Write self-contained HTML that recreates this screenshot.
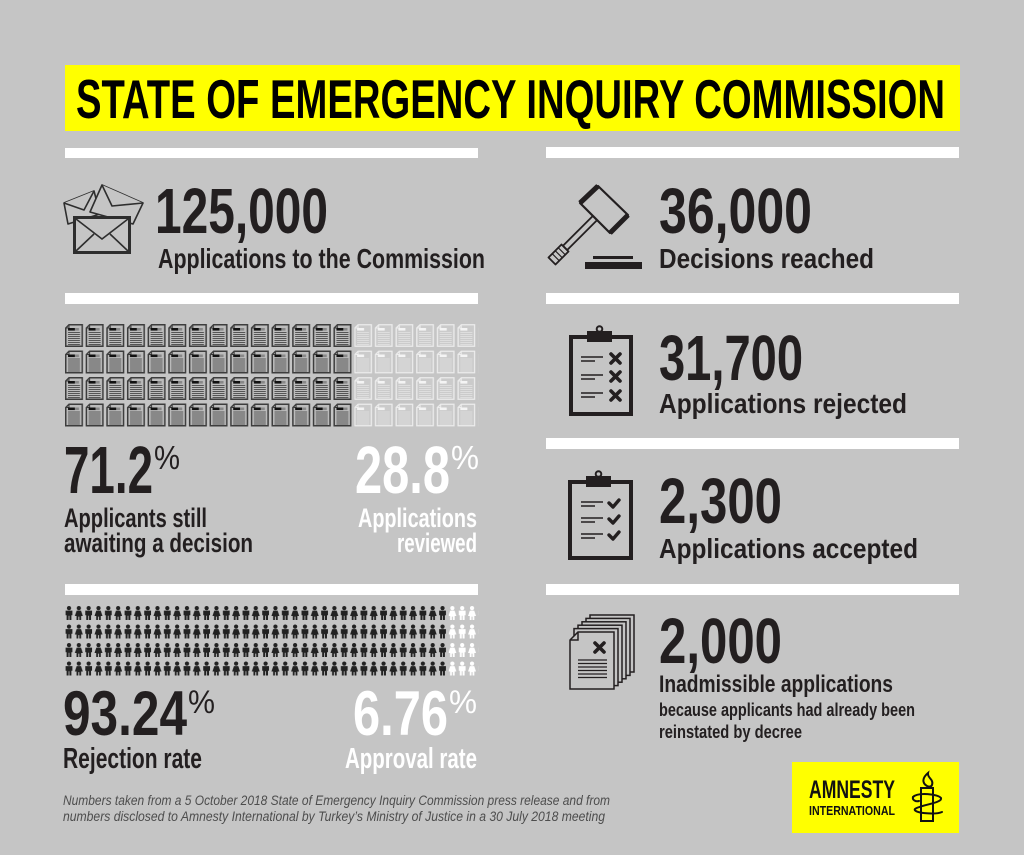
<!DOCTYPE html>
<html>
<head>
<meta charset="utf-8">
<style>
html,body{margin:0;padding:0;background:#c5c5c5;}
body{width:1024px;height:855px;overflow:hidden;}
svg{display:block;}
.b{font-family:"Liberation Sans Narrow","Liberation Sans",sans-serif;font-weight:bold;}
.r{font-family:"Liberation Sans Narrow","Liberation Sans",sans-serif;font-weight:normal;}
.i{font-family:"Liberation Sans",sans-serif;font-style:italic;font-weight:normal;}
</style>
</head>
<body>
<svg width="1024" height="855" viewBox="0 0 1024 855" xmlns="http://www.w3.org/2000/svg">
<defs>
  <pattern id="docD" patternUnits="userSpaceOnUse" x="65" y="324" width="20.65" height="26.5">
    <path d="M4,0.75 H17.25 V22.25 H0.75 V4 Z" fill="#bcbcbc" stroke="#3d3d3d" stroke-width="1.5"/>
    <path d="M0.75,4 H4 V0.75" fill="none" stroke="#3d3d3d" stroke-width="1"/>
    <rect x="3" y="4" width="7" height="2.6" fill="#111"/>
    <rect x="10" y="4" width="4" height="2.6" fill="#888"/>
    <path d="M3,8.5H15M3,10.5H15M3,12.5H15M3,14.5H15M3,16.5H15M3,18.5H15M3,20.5H15" stroke="#555" stroke-width="1"/>
  </pattern>
  <pattern id="docL" patternUnits="userSpaceOnUse" x="65" y="324" width="20.65" height="26.5">
    <path d="M4,0.75 H17.25 V22.25 H0.75 V4 Z" fill="#cbcbcb" stroke="#ececec" stroke-width="1.3"/>
    <path d="M0.75,4 H4 V0.75" fill="none" stroke="#ececec" stroke-width="1"/>
    <rect x="3" y="4" width="7" height="2.6" fill="#f4f4f4"/>
    <path d="M3,8.5H15M3,10.5H15M3,12.5H15M3,14.5H15M3,16.5H15M3,18.5H15M3,20.5H15" stroke="#dedede" stroke-width="1"/>
  </pattern>
  <pattern id="pplD" patternUnits="userSpaceOnUse" x="65" y="606" width="19.66" height="18.5">
    <g fill="#222">
      <circle cx="4" cy="2.1" r="2.1"/>
      <path d="M0.6,4.6 H7.4 V9.2 H6.4 V14 H4.4 V9.8 H3.6 V14 H1.6 V9.2 H0.6 Z"/>
      <circle cx="13.83" cy="2.1" r="2.1"/>
      <path d="M11.63,4.6 H16.03 L17.83,10 H16.13 V14 H14.33 V10.6 H13.33 V14 H11.53 V10 H9.83 Z"/>
    </g>
  </pattern>
  <pattern id="pplW" patternUnits="userSpaceOnUse" x="65" y="606" width="19.66" height="18.5">
    <g fill="#ffffff">
      <circle cx="4" cy="2.1" r="2.1"/>
      <path d="M0.6,4.6 H7.4 V9.2 H6.4 V14 H4.4 V9.8 H3.6 V14 H1.6 V9.2 H0.6 Z"/>
      <circle cx="13.83" cy="2.1" r="2.1"/>
      <path d="M11.63,4.6 H16.03 L17.83,10 H16.13 V14 H14.33 V10.6 H13.33 V14 H11.53 V10 H9.83 Z"/>
    </g>
  </pattern>
</defs>

<rect x="0" y="0" width="1024" height="855" fill="#c5c5c5"/>

<!-- Title -->
<rect x="65" y="65" width="895" height="66" fill="#ffff00"/>
<text class="b" x="76" y="118" font-size="55" fill="#000" textLength="869" lengthAdjust="spacingAndGlyphs">STATE OF EMERGENCY INQUIRY COMMISSION</text>

<!-- White bars -->
<g fill="#ffffff">
  <rect x="65" y="148" width="413" height="10"/>
  <rect x="65" y="293" width="413" height="11"/>
  <rect x="65" y="584" width="413" height="11"/>
  <rect x="546" y="147" width="413" height="11"/>
  <rect x="546" y="293" width="413" height="11"/>
  <rect x="546" y="438" width="413" height="11"/>
  <rect x="546" y="584" width="413" height="11"/>
</g>

<!-- Envelope icon -->
<g fill="#c5c5c5" stroke="#2e2e2e" stroke-width="1.6" stroke-linejoin="round">
  <path d="M64,203 L94,191 L100,214 L68,224 Z"/>
  <path d="M64,203 L84,210 L94,191"/>
  <path d="M102,185 L143,203 L133,224 L90,212 Z"/>
  <path d="M102,185 L112,206 L143,203"/>
</g>
<rect x="74.5" y="217.5" width="55" height="35" fill="#c5c5c5" stroke="#2e2e2e" stroke-width="3"/>
<path d="M76,219 L102,239 L128,219 M76,251 L94,234 M128,251 L110,234" fill="none" stroke="#2e2e2e" stroke-width="1.6"/>

<text class="b" x="155" y="233" font-size="64" fill="#231f20" textLength="173" lengthAdjust="spacingAndGlyphs">125,000</text>
<text class="b" x="158" y="268" font-size="28" fill="#231f20" textLength="327" lengthAdjust="spacingAndGlyphs">Applications to the Commission</text>

<!-- Gavel -->
<g stroke="#231f20" fill="none" stroke-linejoin="round">
  <path d="M598,186 L628,215 L610,233 L580,203 Z" stroke-width="2.2" fill="#c5c5c5"/>
  <path d="M598,186 L580,203" stroke-width="5"/>
  <path d="M628,215 L610,233" stroke-width="5"/>
  <path d="M597.1,220.1 L592.9,215.9 L563,245.8 L567.2,250 Z" stroke-width="1.8"/>
  <path d="M568.5,251.5 L561.5,244.5 L548.5,257.5 L555.5,264.5 Z" stroke-width="1.8"/>
  <path d="M558.5,248 L565,254.5 M555.5,251 L562,257.5 M552.5,254 L559,260.5" stroke-width="1.2"/>
</g>
<rect x="593" y="256" width="40" height="3" fill="#231f20"/>
<rect x="585" y="262" width="57" height="7" fill="#231f20"/>

<text class="b" x="659" y="233" font-size="64" fill="#231f20" textLength="153" lengthAdjust="spacingAndGlyphs">36,000</text>
<text class="b" x="659" y="268" font-size="28" fill="#231f20" textLength="215" lengthAdjust="spacingAndGlyphs">Decisions reached</text>

<!-- Clipboard X -->
<rect x="571" y="337" width="60" height="77" fill="none" stroke="#231f20" stroke-width="4"/>
<rect x="587" y="331" width="25" height="11" fill="#231f20"/>
<circle cx="599.5" cy="329" r="2.8" fill="#c5c5c5" stroke="#231f20" stroke-width="2"/>
<g stroke="#231f20" stroke-width="1.6">
  <path d="M581,357H603M581,361H595M581,375H603M581,379H595M581,393H603M581,397H595"/>
</g>
<g stroke="#231f20" stroke-width="3.6" stroke-linecap="round">
  <path d="M611,354L620,363M620,354L611,363"/>
  <path d="M611,372L620,381M620,372L611,381"/>
  <path d="M611,391L620,400M620,391L611,400"/>
</g>

<text class="b" x="659" y="380" font-size="64" fill="#231f20" textLength="144" lengthAdjust="spacingAndGlyphs">31,700</text>
<text class="b" x="659" y="413" font-size="28" fill="#231f20" textLength="248" lengthAdjust="spacingAndGlyphs">Applications rejected</text>

<!-- Clipboard check -->
<rect x="570" y="482" width="61" height="76" fill="none" stroke="#231f20" stroke-width="4"/>
<rect x="586" y="476" width="25" height="11" fill="#231f20"/>
<circle cx="598.5" cy="474" r="2.8" fill="#c5c5c5" stroke="#231f20" stroke-width="2"/>
<g stroke="#231f20" stroke-width="1.6">
  <path d="M581,502H603M581,506H595M581,518H603M581,522H595M581,534H603M581,538H595"/>
</g>
<g stroke="#231f20" stroke-width="3.4" stroke-linecap="round" stroke-linejoin="round" fill="none">
  <path d="M609,503L613,507L619,500"/>
  <path d="M609,519L613,523L619,516"/>
  <path d="M609,535L613,539L619,532"/>
</g>

<text class="b" x="659" y="523" font-size="64" fill="#231f20" textLength="123" lengthAdjust="spacingAndGlyphs">2,300</text>
<text class="b" x="659" y="558" font-size="28" fill="#231f20" textLength="259" lengthAdjust="spacingAndGlyphs">Applications accepted</text>

<!-- Document stack -->
<g fill="#c5c5c5" stroke="#231f20" stroke-width="1.5">
  <rect x="590" y="615" width="44" height="57"/>
  <rect x="586" y="618.4" width="44" height="57"/>
  <rect x="582" y="621.8" width="44" height="57"/>
  <rect x="578" y="625.2" width="44" height="57"/>
  <rect x="574" y="628.6" width="44" height="57"/>
  <path d="M578,632 H614 V689 H570 V640 Z"/>
  <path d="M570,640 H578 V632" fill="none"/>
</g>
<g stroke="#231f20" stroke-width="3.6" stroke-linecap="round">
  <path d="M595,643L604,652M604,643L595,652"/>
</g>
<g stroke="#231f20" stroke-width="1.3">
  <path d="M578,660H607M578,663.5H607M578,667H607M578,670.5H607M578,674H607M578,677.5H607"/>
</g>

<text class="b" x="659" y="663" font-size="64" fill="#231f20" textLength="123" lengthAdjust="spacingAndGlyphs">2,000</text>
<text class="b" x="659" y="692" font-size="24" fill="#231f20" textLength="234" lengthAdjust="spacingAndGlyphs">Inadmissible applications</text>
<text class="b" x="659" y="716" font-size="18" fill="#231f20" textLength="256" lengthAdjust="spacingAndGlyphs">because applicants had already been</text>
<text class="b" x="659" y="738" font-size="18" fill="#231f20" textLength="143" lengthAdjust="spacingAndGlyphs">reinstated by decree</text>

<!-- Documents grid -->
<rect x="65" y="324" width="289.1" height="106" fill="url(#docD)"/>
<rect x="354.1" y="324" width="124" height="106" fill="url(#docL)"/>

<text class="b" x="64" y="493" font-size="67" fill="#231f20" textLength="89" lengthAdjust="spacingAndGlyphs">71.2</text>
<text class="r" x="154" y="469" font-size="33" fill="#231f20" textLength="26" lengthAdjust="spacingAndGlyphs">%</text>
<text class="b" x="64" y="527" font-size="27" fill="#231f20" textLength="143" lengthAdjust="spacingAndGlyphs">Applicants still</text>
<text class="b" x="64" y="552" font-size="27" fill="#231f20" textLength="189" lengthAdjust="spacingAndGlyphs">awaiting a decision</text>

<text class="b" x="355" y="493" font-size="67" fill="#ffffff" textLength="95" lengthAdjust="spacingAndGlyphs">28.8</text>
<text class="r" x="451" y="469" font-size="33" fill="#ffffff" textLength="28" lengthAdjust="spacingAndGlyphs">%</text>
<text class="b" x="358" y="527" font-size="27" fill="#ffffff" textLength="119" lengthAdjust="spacingAndGlyphs">Applications</text>
<text class="b" x="397" y="552" font-size="27" fill="#ffffff" textLength="80" lengthAdjust="spacingAndGlyphs">reviewed</text>

<!-- People grid -->
<rect x="65" y="606" width="383.4" height="72" fill="url(#pplD)"/>
<rect x="448.4" y="606" width="30" height="72" fill="url(#pplW)"/>

<text class="b" x="63" y="735" font-size="63" fill="#231f20" textLength="124" lengthAdjust="spacingAndGlyphs">93.24</text>
<text class="r" x="188" y="713" font-size="32" fill="#231f20" textLength="27" lengthAdjust="spacingAndGlyphs">%</text>
<text class="b" x="63" y="768" font-size="29" fill="#231f20" textLength="139" lengthAdjust="spacingAndGlyphs">Rejection rate</text>

<text class="b" x="353" y="735" font-size="63" fill="#ffffff" textLength="95" lengthAdjust="spacingAndGlyphs">6.76</text>
<text class="r" x="449" y="713" font-size="32" fill="#ffffff" textLength="28" lengthAdjust="spacingAndGlyphs">%</text>
<text class="b" x="345" y="768" font-size="29" fill="#ffffff" textLength="132" lengthAdjust="spacingAndGlyphs">Approval rate</text>

<!-- Footnote -->
<text class="i" x="63" y="805" font-size="13.5" fill="#4d4d4d" textLength="547" lengthAdjust="spacingAndGlyphs">Numbers taken from a 5 October 2018 State of Emergency Inquiry Commission press release and from</text>
<text class="i" x="63" y="821" font-size="13.5" fill="#4d4d4d" textLength="542" lengthAdjust="spacingAndGlyphs">numbers disclosed to Amnesty International by Turkey’s Ministry of Justice in a 30 July 2018 meeting</text>

<!-- Amnesty logo -->
<rect x="792" y="762" width="167" height="71" fill="#ffff00"/>
<text class="b" x="809" y="798" font-size="25" fill="#111" textLength="86" lengthAdjust="spacingAndGlyphs">AMNESTY</text>
<text class="b" x="809" y="815" font-size="13" fill="#111" textLength="86" lengthAdjust="spacingAndGlyphs">INTERNATIONAL</text>
<g stroke="#111" fill="none" stroke-width="2" stroke-linecap="round">
  <path d="M927,786 C922,783 922,778 928,773 C927,778 934,779 932,785 C931,787 929,787 927,786 Z" fill="none"/>
  <rect x="921" y="788" width="12" height="33"/>
  <path d="M913,797 C918,792 938,794 941,798 C943,803 920,805 915,809 C912,813 935,815 942,812"/>
  <path d="M913,797 C912,800 916,802 919,801"/>
</g>
</svg>
</body>
</html>
